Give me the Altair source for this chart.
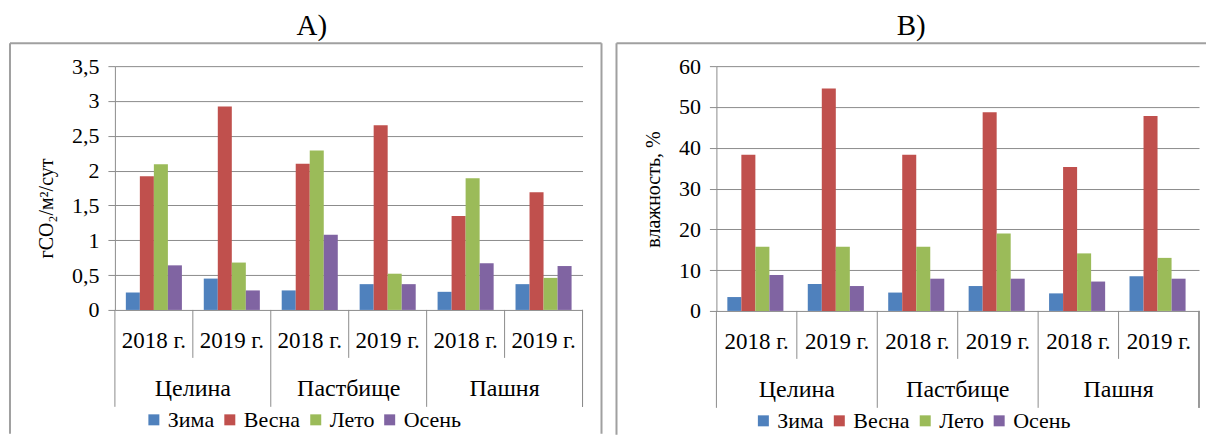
import altair as alt
import pandas as pd

groups = ["Целина", "Пастбище", "Пашня"]
years = ["2018 г.", "2019 г."]
seasons = ["Зима", "Весна", "Лето", "Осень"]
colors = ["#4F81BD", "#C0504D", "#9BBB59", "#8064A2"]

co2_zima = [0.25, 0.45, 0.28, 0.37, 0.26, 0.37]
co2_vesna = [1.92, 2.92, 2.10, 2.65, 1.35, 1.69]
co2_leto = [2.09, 0.68, 2.29, 0.52, 1.89, 0.46]
co2_osen = [0.64, 0.28, 1.08, 0.37, 0.67, 0.63]

hum_zima = [3.4, 6.6, 4.5, 6.1, 4.3, 8.5]
hum_vesna = [38.3, 54.5, 38.3, 48.7, 35.3, 47.8]
hum_leto = [15.7, 15.7, 15.7, 19.0, 14.1, 13.0]
hum_osen = [8.8, 6.1, 7.9, 7.9, 7.2, 7.9]

co2_ticks = [0, 0.5, 1, 1.5, 2, 2.5, 3, 3.5]
hum_ticks = [0, 10, 20, 30, 40, 50, 60]

FONT = "Liberation Serif"
GRAY = "#8c8c8c"
BORDER = "#a0a0a0"

cats = [(g, y) for g in groups for y in years]
keys = [g + "|" + y for g, y in cats]


def long_df(series):
    rows = []
    for s, vals in zip(seasons, series):
        for (g, y), k, v in zip(cats, keys, vals):
            rows.append({"key": k, "group": g, "year": y, "season": s, "value": v})
    return pd.DataFrame(rows)


cat_df = pd.DataFrame({"key": keys, "year": [y for _, y in cats],
                       "group": [g for g, _ in cats]})
grp_df = pd.DataFrame({"key": keys[0::2], "group": groups})
short_df = pd.DataFrame({"key": keys[1::2]})
long_sep_df = pd.DataFrame({"key": keys[0::2]})


def panel(df, W, H, ymax, ticks, ytitle, letter, title_x, legend_x, title_y,
          border_left, border_right, top_right):
    xenc = alt.X("key:N", sort=keys, axis=None,
                 scale=alt.Scale(paddingInner=0, paddingOuter=0))
    bars = alt.Chart(df).mark_bar().encode(
        x=xenc,
        xOffset=alt.XOffset("season:N", sort=seasons,
                            scale=alt.Scale(paddingInner=0, paddingOuter=0.78)),
        y=alt.Y("value:Q", scale=alt.Scale(domain=[0, ymax], nice=False),
                axis=alt.Axis(values=ticks, title=ytitle,
                              labelExpr="replace(format(datum.value, '~g'), '.', ',')",
                              labelFont=FONT, labelFontSize=22, labelColor="black",
                              labelPadding=9,
                              tickColor=GRAY, tickSize=7, domainColor=GRAY,
                              gridColor=GRAY, grid=True,
                              titleFont=FONT, titleFontSize=20, titleFontWeight="normal",
                              titleColor="black", titlePadding=15, titleY=title_y)),
        color=alt.Color("season:N", sort=seasons,
                        scale=alt.Scale(domain=seasons, range=colors),
                        legend=alt.Legend(orient="none", legendX=legend_x, legendY=H + 99,
                                          direction="horizontal", title=None, padding=0,
                                          symbolType="square", symbolSize=121,
                                          symbolStrokeWidth=0, labelFont=FONT,
                                          labelFontSize=22, labelColor="black",
                                          labelOffset=3, columnPadding=4)),
    )
    year_txt = alt.Chart(cat_df).mark_text(font=FONT, fontSize=23, color="black").encode(
        x=alt.X("key:N", sort=keys), text="year:N", y=alt.value(H + 31))
    grp_txt = alt.Chart(grp_df).mark_text(font=FONT, fontSize=24, color="black",
                                          dx=W / 12).encode(
        x=alt.X("key:N", sort=keys), text="group:N", y=alt.value(H + 79))
    short_r = alt.Chart(short_df).mark_rule(color=GRAY).encode(
        x=alt.X("key:N", sort=keys, bandPosition=0),
        y=alt.value(H), y2=alt.value(H + 48))
    long_r = alt.Chart(long_sep_df).mark_rule(color=GRAY).encode(
        x=alt.X("key:N", sort=keys, bandPosition=0),
        y=alt.value(H), y2=alt.value(H + 97))
    end_r = alt.Chart(long_sep_df).mark_rule(color=GRAY).encode(
        x=alt.value(W), y=alt.value(H), y2=alt.value(H + 97))
    title_df = pd.DataFrame({"t": [letter]})
    title = alt.Chart(title_df).mark_text(font=FONT, fontSize=29, color="black").encode(
        text="t:N", x=alt.value(title_x), y=alt.value(-40))
    layers = [bars, short_r, long_r, end_r, year_txt, grp_txt, title]
    bl = alt.Chart(title_df).mark_rule(color=BORDER, strokeWidth=2).encode(
        x=alt.value(border_left), y=alt.value(-23), y2=alt.value(H + 124))
    bt = alt.Chart(title_df).mark_rule(color=BORDER, strokeWidth=2).encode(
        x=alt.value(border_left), x2=alt.value(top_right), y=alt.value(-23))
    layers += [bl, bt]
    if border_right is not None:
        br = alt.Chart(title_df).mark_rule(color=BORDER, strokeWidth=2).encode(
            x=alt.value(border_right), y=alt.value(-23), y2=alt.value(H + 124))
        layers.append(br)
    return alt.layer(*layers).properties(width=W, height=H)


left = panel(long_df([co2_zima, co2_vesna, co2_leto, co2_osen]), 468, 244, 3.5,
             co2_ticks, "гCO₂/м²/сут", "A)", 197, 28, 142, -105, 487, 487)
right = panel(long_df([hum_zima, hum_vesna, hum_leto, hum_osen]), 483, 245, 60,
              hum_ticks, "влажность, %", "B)", 195, 36, 123, -100, None, 490)

chart = alt.hconcat(left, right, spacing=134, bounds="flush").resolve_scale(
    color="independent", y="independent").resolve_legend(color="independent").properties(
    padding={"left": 9, "top": 12, "right": 0, "bottom": 0}).configure_view(strokeWidth=0)

chart.save("out.html", embed_options={"renderer": "svg", "actions": False})
